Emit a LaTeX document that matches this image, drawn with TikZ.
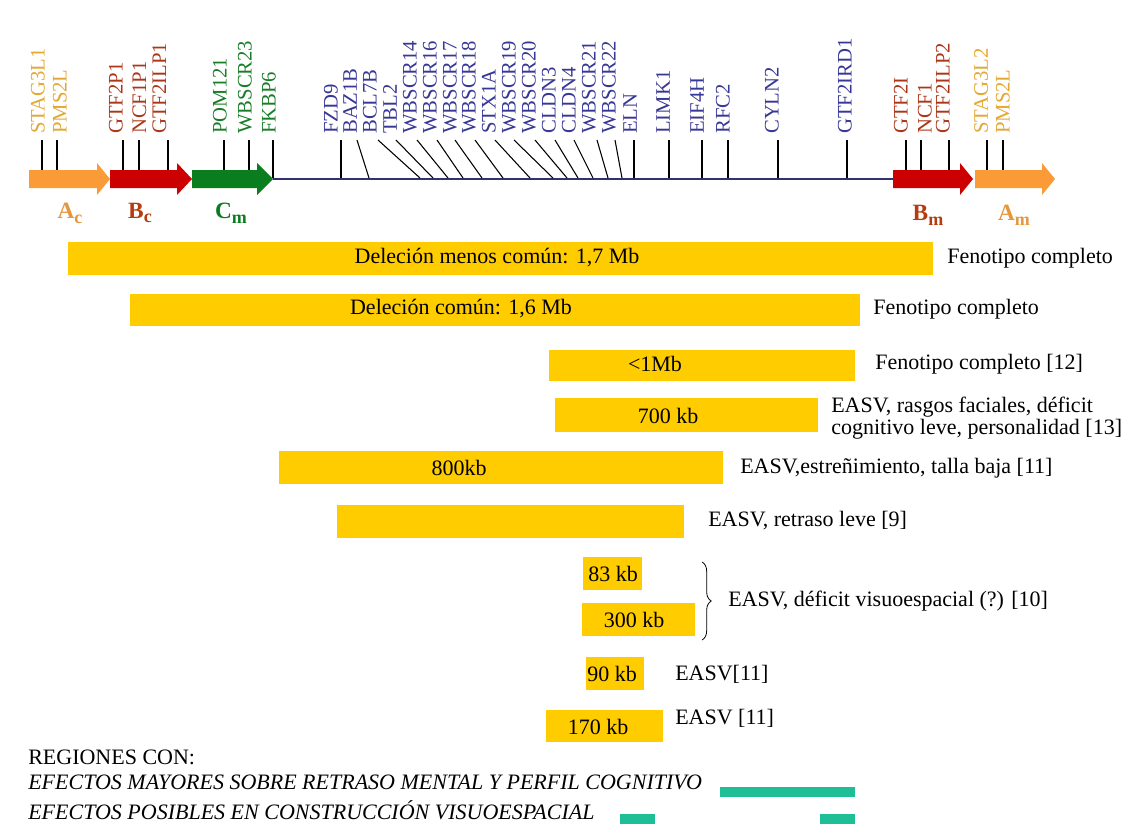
\documentclass[tikz,border=0pt]{standalone}
\usepackage{fontspec}
\setmainfont{Liberation Serif}
\usetikzlibrary{decorations.pathreplacing}

\definecolor{barra}{RGB}{255,204,0}
\definecolor{naranja}{RGB}{250,155,55}
\definecolor{rojo}{RGB}{204,0,0}
\definecolor{verde}{RGB}{10,125,30}
\definecolor{cromo}{RGB}{50,50,110}
\definecolor{genazul}{RGB}{55,55,150}
\definecolor{genoro}{RGB}{228,168,50}
\definecolor{genrojo}{RGB}{170,55,25}
\definecolor{genverde}{RGB}{25,125,40}
\definecolor{bloqnar}{RGB}{230,150,60}
\definecolor{bloqrojo}{RGB}{180,60,15}
\definecolor{turquesa}{RGB}{30,190,150}

\newcommand{\subbloque}[1]{\raisebox{-0.45ex}{\fontsize{13.5}{13.5}\selectfont #1}}

\begin{document}
\begin{tikzpicture}[x=0.75pt, y=-0.75pt, line join=round,
    gen/.style={rotate=90, anchor=west, inner sep=0pt, font=\fontsize{15.5}{15}\selectfont},
    txt/.style={anchor=west, inner sep=0pt, font=\fontsize{16.5}{15}\selectfont},
    barlab/.style={inner sep=0pt, font=\fontsize{16.5}{15}\selectfont},
    bloque/.style={inner sep=0pt, font=\fontsize{17.5}{20}\selectfont\bfseries}]

  \useasboundingbox (0,0) rectangle (1129,828);
  \fill[white] (0,0) rectangle (1129,828);

  % Cromosoma
  \coordinate (cen-izq) at (273,179);
  \coordinate (cen-der) at (893,179);
  \draw[cromo, line width=1.5pt] (cen-izq) -- (cen-der);

  % Bloques repetidos (flechas)
  \foreach \a/\h/\b/\col in {29/97/110/naranja, 110/177/192/rojo, 192/257/273/verde,
                             893/960/973/rojo, 975/1042/1055/naranja}
    \fill[\col] (\a,170) -- (\h,170) -- (\h,163) -- (\b,179) -- (\h,195) -- (\h,188) -- (\a,188) -- cycle;

  % Genes: nombre / centro etiqueta / x arriba / x abajo / y abajo / color
  \foreach \n/\cx/\tx/\bx/\by/\col [count=\i] in {
      STAG3L1/38/42/42/170/genoro, PMS2L/60/57/57/170/genoro,
      GTF2P1/116/123/123/170/genrojo, NCF1P1/139.5/139/139/170/genrojo, GTF2ILP1/159.5/168/168/170/genrojo,
      POM121/220/224/224/170/genverde, WBSCR23/245/249/249/170/genverde, FKBP6/269/273/273/178/genverde,
      FZD9/331/341/341/178/genazul, BAZ1B/350/357/369/178/genazul, BCL7B/370/378/420/178/genazul,
      TBL2/390/396/433/178/genazul, WBSCR14/410/417/448/178/genazul, WBSCR16/430/437/463/178/genazul,
      WBSCR17/450/455/482/178/genazul, WBSCR18/469/475/503/178/genazul, STX1A/489/495/530/178/genazul,
      WBSCR19/509/514/553/178/genazul, WBSCR20/529/535/567/178/genazul, CLDN3/549/555/578/178/genazul,
      CLDN4/569/574/593/178/genazul, WBSCR21/589/597/608/178/genazul, WBSCR22/609/615/622/178/genazul,
      ELN/630/634/634/178/genazul, LIMK1/663/669/669/178/genazul, EIF4H/697/702/702/178/genazul,
      RFC2/723/728/728/178/genazul, CYLN2/772/778/778/178/genazul, GTF2IRD1/845/847/847/178/genazul,
      GTF2I/901/906/906/170/genrojo, NCF1/925/921/921/170/genrojo, GTF2ILP2/943/949/949/170/genrojo,
      STAG3L2/981/987/987/170/genoro, PMS2L/1003/1003/1003/170/genoro}{
    \node[gen, text=\col] (g\i) at (\cx,134) {\n};
    \coordinate (t\i) at (\tx,140);
    \coordinate (b\i) at (\bx,\by);
    \draw[line width=0.8pt] (t\i) -- (b\i);
  }

  % Nombres de los bloques
  \node[bloque, text=bloqnar]  (Ac) at (70,213)  {A\subbloque{c}};
  \node[bloque, text=bloqrojo] (Bc) at (140,213) {B\subbloque{c}};
  \node[bloque, text=verde]    (Cm) at (231,213) {C\subbloque{m}};
  \node[bloque, text=bloqrojo] (Bm) at (928,215) {B\subbloque{m}};
  \node[bloque, text=bloqnar]  (Am) at (1014,215) {A\subbloque{m}};

  % Deleciones
  \foreach \xa/\ya/\xb/\yb in {68/242/933/275, 130/294/860/326, 549/350/855/381,
      555/398/818/432, 279/451/723/484, 337/505/684/538, 583/557/642/590,
      582/603/695/636, 586/657/644/690, 546/710/663/742}
    \fill[barra] (\xa,\ya) rectangle (\xb,\yb);

  \node[barlab] (d17)  at (497,258) {Deleción menos común: 1,7 Mb};
  \node[barlab] (d16)  at (461,309) {Deleción común: 1,6 Mb};
  \node[barlab] (d1)   at (655,364) {<1Mb};
  \node[barlab] (d700) at (668,416) {700 kb};
  \node[barlab] (d800) at (459,468) {800kb};
  \node[barlab] (d83)  at (613,574) {83 kb};
  \node[barlab] (d300) at (634,620) {300 kb};
  \node[barlab] (d90)  at (612,674) {90 kb};
  \node[barlab] (d170) at (598,727) {170 kb};

  % Fenotipos
  \node[txt] (f1) at (947,258) {Fenotipo completo};
  \node[txt] (f2) at (873,309) {Fenotipo completo};
  \node[txt] (f3) at (875,364) {Fenotipo completo [12]};
  \node[txt, align=left] (f4) at (831,418) {EASV, rasgos faciales, déficit\\cognitivo leve, personalidad [13]};
  \node[txt] (f5) at (740,468) {EASV,estreñimiento, talla baja [11]};
  \node[txt] (f6) at (708,521) {EASV, retraso leve [9]};
  \node[txt] (f7) at (728,601) {EASV, déficit visuoespacial (?) [10]};
  \node[txt] (f8) at (675,674) {EASV[11]};
  \node[txt] (f9) at (675,718) {EASV [11]};

  % Llave
  \coordinate (ll-a) at (702,562);
  \coordinate (ll-b) at (702,640);
  \draw[line width=0.6pt, decorate, decoration={brace, amplitude=7pt}] (ll-a) -- (ll-b);

  % Leyenda
  \node[txt] (leg)  at (28,757) {REGIONES CON:};
  \node[txt, font=\fontsize{16.5}{15}\selectfont\itshape] (leg1) at (28,782)
    {EFECTOS MAYORES SOBRE RETRASO MENTAL Y PERFIL COGNITIVO};
  \node[txt, font=\fontsize{16.5}{15}\selectfont\itshape] (leg2) at (28,810)
    {EFECTOS POSIBLES EN CONSTRUCCIÓN VISUOESPACIAL};
  \fill[turquesa] (720,787) rectangle (855,797);
  \fill[turquesa] (620,814) rectangle (655,824);
  \fill[turquesa] (820,814) rectangle (855,824);
\end{tikzpicture}
\end{document}
